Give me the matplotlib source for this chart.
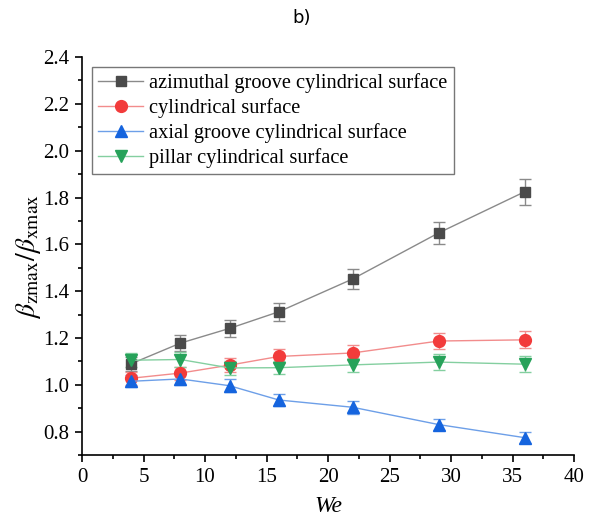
import matplotlib
matplotlib.use("Agg")
import matplotlib.pyplot as plt
from matplotlib.ticker import MultipleLocator

plt.rcParams['font.family'] = ['Liberation Serif', 'DejaVu Serif']
plt.rcParams['mathtext.fontset'] = 'stix'

# Weber numbers
we = [4, 8, 12, 16, 22, 29, 36]

# ratio beta_zmax / beta_xmax for each surface, with error bars
azimuthal = [1.090, 1.178, 1.241, 1.312, 1.452, 1.649, 1.825]
azimuthal_err = [0.030, 0.034, 0.037, 0.039, 0.043, 0.048, 0.055]

cylindrical = [1.028, 1.050, 1.084, 1.121, 1.136, 1.187, 1.192]
cylindrical_err = [0.028, 0.028, 0.030, 0.030, 0.032, 0.033, 0.036]

axial = [1.015, 1.025, 0.996, 0.935, 0.904, 0.830, 0.774]
axial_err = [0.025, 0.025, 0.027, 0.025, 0.027, 0.025, 0.024]

pillar = [1.105, 1.108, 1.072, 1.073, 1.085, 1.097, 1.088]
pillar_err = [0.030, 0.030, 0.030, 0.028, 0.030, 0.033, 0.033]

series = [
    ("azimuthal groove cylindrical surface", azimuthal, azimuthal_err, "s", "#4a4a4a", "#8a8a8a", 7),
    ("cylindrical surface", cylindrical, cylindrical_err, "o", "#f23b3b", "#f28c8c", 8.5),
    ("axial groove cylindrical surface", axial, axial_err, "^", "#1564de", "#6d9fe8", 8.5),
    ("pillar cylindrical surface", pillar, pillar_err, "v", "#27a25a", "#84cfa0", 8.5),
]

fig = plt.figure(figsize=(6.03, 5.25), dpi=100)
ax = fig.add_axes([0.136, 0.1333, 0.816, 0.758])

for label, vals, errs, mk, mcol, lcol, ms in series:
    ax.errorbar(we, vals, yerr=errs, fmt='none', ecolor=lcol, elinewidth=1.0,
                capsize=4, capthick=1.0, zorder=2)
    ax.plot(we, vals, color=lcol, lw=1.0, marker=mk, ms=ms, mfc=mcol, mec=mcol,
            label=label, zorder=3)

ax.set_xlim(0, 40)
ax.set_ylim(0.7, 2.4)
ax.xaxis.set_major_locator(MultipleLocator(5))
ax.xaxis.set_minor_locator(MultipleLocator(2.5))
ax.yaxis.set_major_locator(MultipleLocator(0.2))
ax.yaxis.set_minor_locator(MultipleLocator(0.1))

for side in ['top', 'right']:
    ax.spines[side].set_visible(False)
for side in ['left', 'bottom']:
    ax.spines[side].set_linewidth(1.2)

ax.tick_params(which='major', direction='out', length=5, width=1.2, labelsize=15, pad=4)
ax.tick_params(which='minor', direction='out', length=3, width=1.2)
ax.set_yticks([0.8, 1.0, 1.2, 1.4, 1.6, 1.8, 2.0, 2.2, 2.4])
ax.set_yticklabels([f"{v:.1f}" for v in [0.8, 1.0, 1.2, 1.4, 1.6, 1.8, 2.0, 2.2, 2.4]])

ax.set_xlabel("We", fontsize=17, style='italic', labelpad=7)
ax.set_ylabel(r"$\beta_{\mathrm{zmax}}/\beta_{\mathrm{xmax}}$", fontsize=20, labelpad=0)

leg = ax.legend(loc='upper left', bbox_to_anchor=(0.012, 0.985), fontsize=14.7,
                frameon=True, fancybox=False, edgecolor='#555555',
                handlelength=2.2, handletextpad=0.3, borderpad=0.3,
                labelspacing=0.25, borderaxespad=0.2)
leg.get_frame().set_linewidth(1.0)

fig.text(0.5, 0.965, "b)", ha='center', va='center', fontsize=13,
         family=['DejaVu Sans'])

fig.savefig("out.png", dpi=100)
